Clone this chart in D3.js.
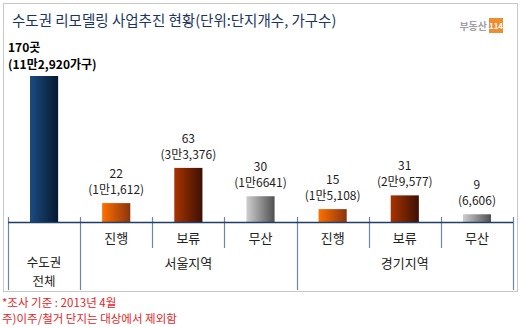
<!DOCTYPE html>
<html>
<head>
<meta charset="utf-8">
<script src="https://cdn.jsdelivr.net/npm/d3@7"></script>
<style>
  body { margin: 0; background: #fff; }
  svg { display: block; font-family: "Noto Sans CJK KR", "Noto Sans", sans-serif; }
</style>
</head>
<body>
<div id="chart"></div>
<script>
// chart data
const categories = ['수도권 전체', '진행', '보류', '무산', '진행', '보류', '무산'];
const complexes = [170, 22, 63, 30, 15, 31, 9];
const households = ['(11만2,920가구)', '(1만1,612)', '(3만3,376)', '(1만6641)', '(1만5,108)', '(2만9,577)', '(6,606)'];
const kinds = ['total', 'go', 'hold', 'drop', 'go', 'hold', 'drop'];
const groups = [{name: '서울지역', from: 1, to: 3}, {name: '경기지역', from: 4, to: 6}];
const notes = ['*조사 기준 : 2013년 4월', '주)이주/철거 단지는 대상에서 제외함'];

const width = 520;
const height = 327;
const baseY = 222;

window.onload = function() {
     const svg = d3.select('#chart')
          .append('svg')
               .attr('width', width)
               .attr('height', height);

     // gradients for the bars (light left, dark right)
     const gradColours = {
          total: ['#1b4c80', '#06182e'],
          go: ['#ff7000', '#8a3410'],
          hold: ['#a83400', '#3c1004'],
          drop: ['#cfcfcf', '#505050']
     };
     const defs = svg.append('defs');
     Object.keys(gradColours).forEach(k => {
          const g = defs.append('linearGradient').attr('id', 'g-' + k)
               .attr('x1', 0).attr('x2', 1).attr('y1', 0).attr('y2', 0);
          g.append('stop').attr('offset', '0%').attr('stop-color', gradColours[k][0]);
          g.append('stop').attr('offset', '100%').attr('stop-color', gradColours[k][1]);
     });

     // frame
     svg.append('rect')
          .attr('x', 3.5).attr('y', 3.5)
          .attr('width', 514).attr('height', 288)
          .attr('fill', 'none')
          .attr('stroke', '#c8c8c8');

     // title
     svg.append('text')
          .attr('x', 12).attr('y', 26)
          .attr('font-size', 14.5)
          .attr('fill', '#1a3560')
          .text('수도권 리모델링 사업추진 현황(단위:단지개수, 가구수)');

     // logo
     svg.append('text')
          .attr('x', 487).attr('y', 30)
          .attr('text-anchor', 'end')
          .attr('font-size', 10)
          .attr('font-weight', 'bold')
          .attr('fill', '#a0a0a8')
          .text('부동산');
     svg.append('rect')
          .attr('x', 489).attr('y', 18)
          .attr('width', 14).attr('height', 15)
          .attr('fill', '#f08c30');
     svg.append('text')
          .attr('x', 496).attr('y', 29)
          .attr('text-anchor', 'middle')
          .attr('font-size', 8)
          .attr('font-weight', 'bold')
          .attr('fill', '#fff')
          .text('114');

     const x = d3.scaleBand()
          .domain(d3.range(categories.length))
          .range([8, 513])
          .padding(0);
     const bw = x.bandwidth();

     const y = d3.scaleLinear()
          .domain([0, 170])
          .range([baseY, 76]);

     // bars
     svg.selectAll('rect.bar')
          .data(complexes)
          .enter()
               .append('rect')
                    .attr('class', 'bar')
                    .attr('x', (d, i) => x(i) + bw * 0.305)
                    .attr('y', d => y(d))
                    .attr('width', bw * 0.39)
                    .attr('height', d => baseY - y(d))
                    .attr('fill', (d, i) => 'url(#g-' + kinds[i] + ')');

     // value labels (not the first bar)
     const lab = svg.append('g').attr('font-size', 12).attr('fill', '#222').attr('text-anchor', 'middle');
     complexes.forEach((d, i) => {
          if (i === 0) return;
          const cx = x(i) + bw / 2;
          lab.append('text').attr('x', cx).attr('y', y(d) - 25).text(d);
          lab.append('text').attr('x', cx).attr('y', y(d) - 9).text(households[i]);
     });

     // first bar label, top left
     svg.append('text')
          .attr('x', 8).attr('y', 52)
          .attr('font-size', 12).attr('font-weight', 'bold')
          .text(complexes[0] + '곳');
     svg.append('text')
          .attr('x', 8).attr('y', 69)
          .attr('font-size', 12).attr('font-weight', 'bold')
          .text(households[0]);

     // axis lines and dividers
     const edges = d3.range(categories.length + 1).map(i => i < categories.length ? x(i) : x.range()[1]);
     edges.forEach((ex, i) => {
          const long = (i === 0 || i === 1 || i === 4 || i === 7);
          svg.append('line')
               .attr('x1', Math.round(ex) + 0.5).attr('x2', Math.round(ex) + 0.5)
               .attr('y1', 217).attr('y2', long ? 290 : 248)
               .attr('stroke', '#6d87a3')
               .attr('stroke-width', 1.2);
     });
     svg.append('line')
          .attr('x1', 8).attr('x2', 513)
          .attr('y1', baseY + 0.5).attr('y2', baseY + 0.5)
          .attr('stroke', '#1f3f68')
          .attr('stroke-width', 1.5);

     // category labels
     const cat = svg.append('g').attr('font-size', 13).attr('fill', '#222').attr('text-anchor', 'middle');
     categories.forEach((c, i) => {
          const cx = x(i) + bw / 2;
          if (i === 0) {
               const parts = c.split(' ');
               cat.append('text').attr('x', cx).attr('y', 267).attr('font-size', 12.5).text(parts[0]);
               cat.append('text').attr('x', cx).attr('y', 286).attr('font-size', 12.5).text(parts[1]);
          } else {
               cat.append('text').attr('x', cx).attr('y', 243).text(c);
          }
     });
     groups.forEach(g => {
          const cx = (x(g.from) + x(g.to) + bw) / 2;
          cat.append('text').attr('x', cx).attr('y', 268).text(g.name);
     });

     // footnotes
     notes.forEach((n, i) => {
          svg.append('text')
               .attr('x', 2).attr('y', 307 + i * 16)
               .attr('font-size', 11.5)
               .attr('fill', '#e4262a')
               .text(n);
     });
};
</script>
</body>
</html>
